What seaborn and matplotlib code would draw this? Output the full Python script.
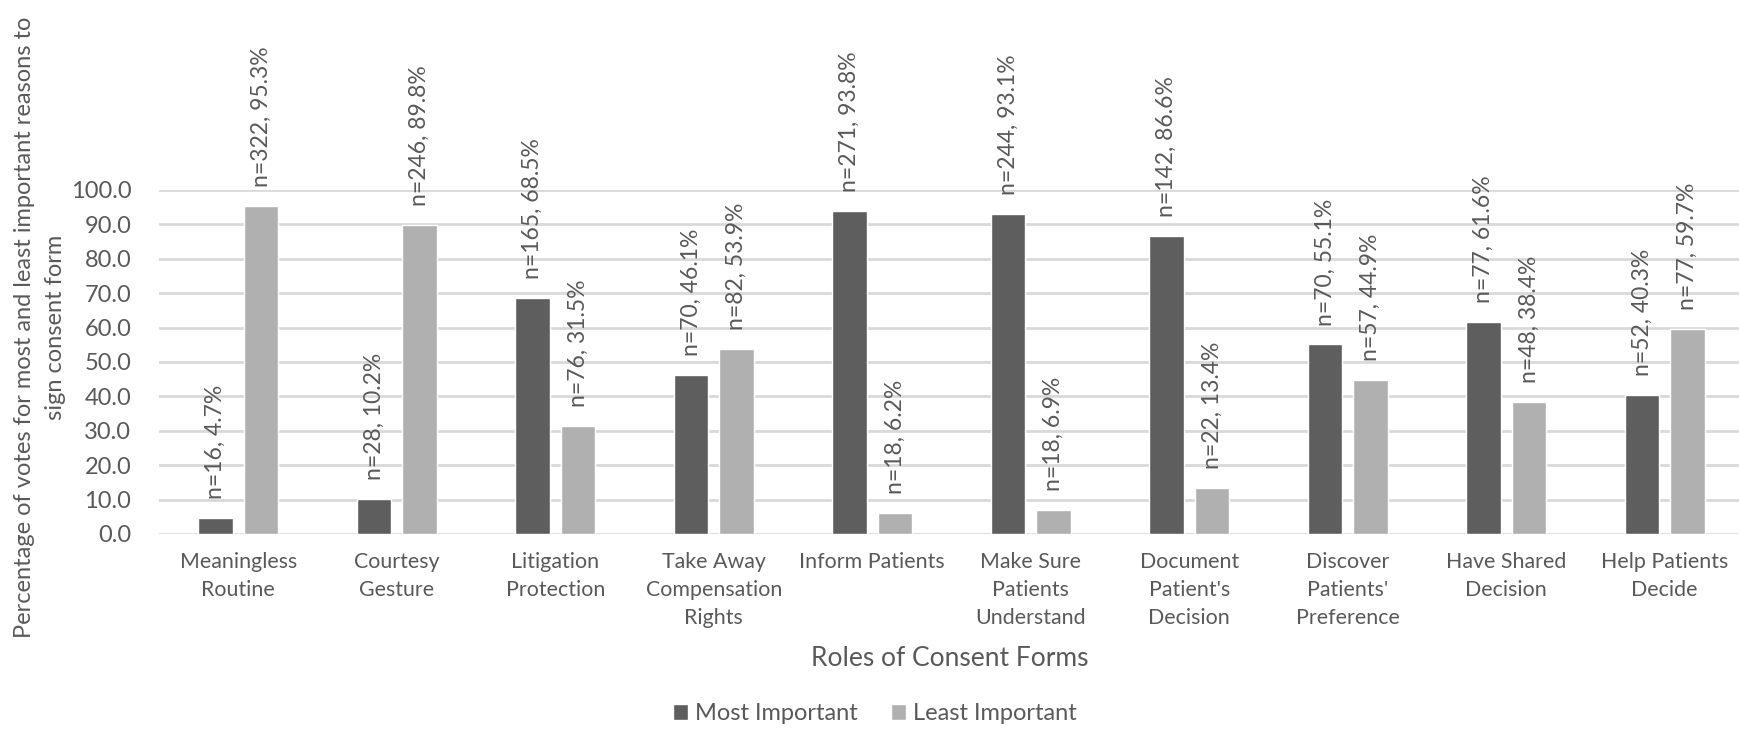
import matplotlib
matplotlib.use("Agg")
import matplotlib.pyplot as plt
import seaborn as sns
import pandas as pd
from matplotlib.patches import Patch

# Roles of consent forms and the share of votes for each
categories = [
    "Meaningless\nRoutine", "Courtesy\nGesture", "Litigation\nProtection",
    "Take Away\nCompensation\nRights", "Inform Patients", "Make Sure\nPatients\nUnderstand",
    "Document\nPatient's\nDecision", "Discover\nPatients'\nPreference",
    "Have Shared\nDecision", "Help Patients\nDecide",
]
most_pct = [4.7, 10.2, 68.5, 46.1, 93.8, 93.1, 86.6, 55.1, 61.6, 40.3]
most_n = [16, 28, 165, 70, 271, 244, 142, 70, 77, 52]
least_pct = [95.3, 89.8, 31.5, 53.9, 6.2, 6.9, 13.4, 44.9, 38.4, 59.7]
least_n = [322, 246, 76, 82, 18, 18, 22, 57, 48, 77]
series = ["Most Important", "Least Important"]
y_ticks = [0, 10, 20, 30, 40, 50, 60, 70, 80, 90, 100]
y_title = ["Percentage of votes for most and least important reasons to",
           "sign consent form"]

dark, light = "#5e5e5e", "#b0b0b0"
text_col = "#595959"
grid_col = "#d9d9d9"

df = pd.DataFrame({
    "role": categories * 2,
    "pct": most_pct + least_pct,
    "n": most_n + least_n,
    "series": [series[0]] * len(categories) + [series[1]] * len(categories),
})

sns.set_theme(style="white")
plt.rcParams["font.family"] = ["Lato", "DejaVu Sans"]

W, H = 1740, 731
fig = plt.figure(figsize=(W / 100, H / 100), dpi=100)
ax_left, ax_bottom, ax_top = 159, 534, 190
ax = fig.add_axes([ax_left / W, (H - ax_bottom) / H, 1 - ax_left / W, (ax_bottom - ax_top) / H])

sns.barplot(data=df, x="role", y="pct", hue="series", palette=[dark, light],
            width=0.572, gap=0.24, ax=ax, legend=False, saturation=1)

ax.set_ylim(0, 100)
ax.set_xlim(-0.5, 9.5 - 4 / 158.5)
ax.set_yticks(y_ticks)
ax.set_yticklabels([f"{v:.1f}" for v in y_ticks], fontsize=17, color=text_col)
ax.tick_params(axis="y", length=0, pad=20)
ax.tick_params(axis="x", length=0, pad=13)
for lbl in ax.get_xticklabels():
    lbl.set_fontsize(15.4)
    lbl.set_color(text_col)
    lbl.set_linespacing(1.5)
    lbl.set_va("top")
ax.grid(axis="y", color=grid_col, linewidth=2)
ax.set_axisbelow(True)
for s in ax.spines.values():
    s.set_visible(False)

ax.set_xlabel("Roles of Consent Forms", fontsize=19, color=text_col, va="center")
ax.xaxis.set_label_coords(0.5, (ax_bottom - 659) / (ax_bottom - ax_top))
ax.set_ylabel("")

# value labels above each bar: count and percentage
for container, ns in zip(ax.containers, [most_n, least_n]):
    for bar, n in zip(container, ns):
        h = bar.get_height()
        ax.text(bar.get_x() + bar.get_width() / 2, h + 5.5, f"n={n}, {h:.1f}%",
                rotation=90, ha="center", va="bottom", fontsize=16.5,
                color=text_col, clip_on=False)

# two-line vertical axis title, both lines centred on the same height
for x_px, line in zip([25, 56], y_title):
    fig.text(x_px / W, 1 - 327 / H, line, rotation=90, ha="center", va="center",
             fontsize=17, color=text_col)

handles = [Patch(facecolor=dark), Patch(facecolor=light)]
fig.legend(handles, series, loc="center", bbox_to_anchor=(875 / W, 1 - 714 / H),
           ncol=2, frameon=False, fontsize=17, handlelength=0.65, handleheight=0.65,
           handletextpad=0.3, columnspacing=1.4, labelcolor=text_col)

fig.savefig("out.png", dpi=100, facecolor="white")
